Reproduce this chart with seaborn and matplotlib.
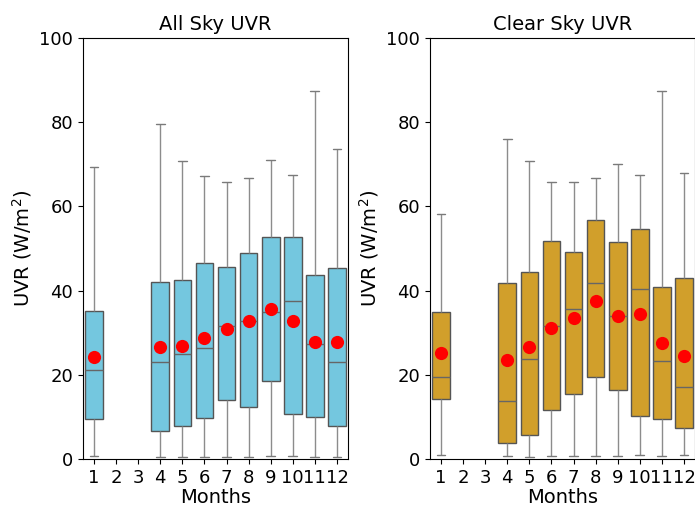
import pandas as pd
import numpy as np
import matplotlib
matplotlib.use('Agg')
import matplotlib.pyplot as plt
import seaborn as sns

months = [str(m) for m in range(1, 13)]
data_months = ['1', '4', '5', '6', '7', '8', '9', '10', '11', '12']

# All Sky UVR box stats (W/m2)
all_lo = [0.7, 0.5, 0.5, 0.5, 0.5, 0.5, 0.6, 0.7, 0.5, 0.5]
all_q1 = [9.6, 6.6, 7.8, 9.7, 14.0, 12.4, 18.5, 10.8, 9.9, 7.8]
all_med = [21.1, 23.1, 24.9, 26.4, 31.7, 32.9, 34.9, 37.6, 27.3, 23.0]
all_q3 = [35.2, 42.0, 42.5, 46.5, 45.6, 48.9, 52.8, 52.8, 43.6, 45.4]
all_hi = [69.4, 79.5, 70.8, 67.3, 65.7, 66.8, 71.0, 67.5, 87.4, 73.7]
all_mean = [24.3, 26.5, 26.9, 28.7, 30.8, 32.8, 35.6, 32.7, 27.9, 27.8]

# Clear Sky UVR box stats (W/m2)
clr_lo = [0.9, 0.6, 0.5, 0.6, 0.6, 0.6, 0.7, 1.0, 0.7, 1.0]
clr_q1 = [14.2, 3.9, 5.7, 11.6, 15.5, 19.5, 16.4, 10.1, 9.5, 7.3]
clr_med = [19.5, 13.7, 23.7, 31.6, 35.6, 41.7, 34.0, 40.4, 23.3, 17.0]
clr_q3 = [34.9, 41.7, 44.4, 51.7, 49.2, 56.8, 51.5, 54.6, 40.9, 43.1]
clr_hi = [58.3, 76.1, 70.8, 65.9, 65.7, 66.8, 70.1, 67.5, 87.4, 68.0]
clr_mean = [25.1, 23.6, 26.7, 31.2, 33.4, 37.6, 34.0, 34.4, 27.6, 24.5]


def long_frame(lo, q1, med, q3, hi):
    rows = []
    for i, m in enumerate(data_months):
        for v in (lo[i], q1[i], med[i], q3[i], hi[i]):
            rows.append({'month': m, 'uvr': v})
    return pd.DataFrame(rows)


def draw(ax, box_df, means, color, title):
    sns.boxplot(data=box_df, x='month', y='uvr', order=months, ax=ax,
                color=color, saturation=1, width=0.8, whis=(0, 100),
                linecolor='#555555', linewidth=1.0, showfliers=False,
                whiskerprops={'color': '#8c8c8c'},
                capprops={'color': '#7a7a7a'},
                medianprops={'color': '#666666'})
    mean_df = pd.DataFrame({'month': data_months, 'uvr': means})
    sns.stripplot(data=mean_df, x='month', y='uvr', order=months, ax=ax,
                  color='red', jitter=False, size=9.5, zorder=5)
    ax.set_ylim(0, 100)
    ax.set_yticks([0, 20, 40, 60, 80, 100])
    ax.set_title(title, fontsize=14)
    ax.set_xlabel('Months', fontsize=14, labelpad=1)
    ax.set_ylabel('UVR (W/m$^2$)', fontsize=14)
    ax.tick_params(labelsize=13, color='black', labelcolor='black')
    for s in ax.spines.values():
        s.set_color('black')


sns.set_style('ticks')
plt.rcParams['text.color'] = 'black'
plt.rcParams['axes.labelcolor'] = 'black'
fig = plt.figure(figsize=(6.95, 5.09), dpi=100)
ax1 = fig.add_axes([0.1194, 0.0982, 0.3813, 0.8271])
ax2 = fig.add_axes([0.6187, 0.0982, 0.3813, 0.8271])

draw(ax1, long_frame(all_lo, all_q1, all_med, all_q3, all_hi), all_mean,
     '#74C7DF', 'All Sky UVR')
draw(ax2, long_frame(clr_lo, clr_q1, clr_med, clr_q3, clr_hi), clr_mean,
     '#D19F2B', 'Clear Sky UVR')

fig.savefig('out.png', dpi=100)
